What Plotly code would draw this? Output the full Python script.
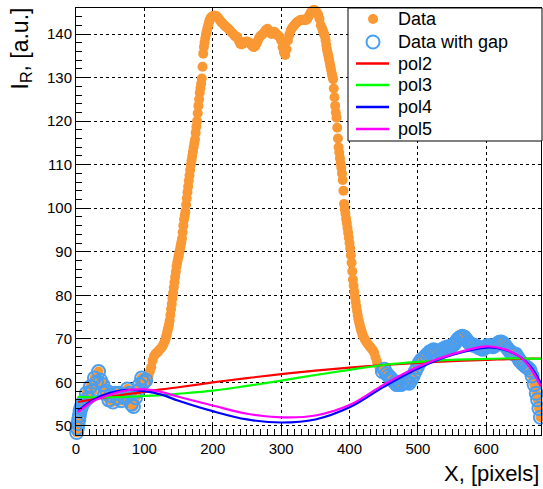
import plotly.graph_objects as go

# ---------------- data ----------------
data_x = (
    list(range(0, 11)) +
    list(range(12, 103, 3)) +
    list(range(104, 131, 2)) +
    list(range(131, 201)) +
    list(range(202, 360, 2)) +
    list(range(360, 421)) +
    list(range(422, 441, 2)) +
    [442, 445, 448, 451, 454, 457, 460, 463, 466, 469, 472, 475, 478, 481, 484, 487,
     490, 493, 496, 499, 502, 505, 508, 511, 514, 517, 520, 523, 526, 529, 532, 535,
     538, 541, 544, 547, 550, 553, 556, 559, 562, 565, 568, 571, 574, 577, 580, 583,
     586, 589, 592, 595, 598, 601, 604, 607, 610, 613, 616, 619, 622, 625, 628, 631,
     634, 637, 640, 643, 646, 649, 652, 655, 658, 661, 664, 667, 670, 673, 675, 677, 679]
)

data_y = (
    # 0..10
    [47.8, 48.5, 49.5, 50.5, 51.5, 52.5, 53.5, 54.0, 54.5, 55.0, 55.5] +
    # 12..102 step 3
    [55.5, 57.5, 56.5, 59.0, 58.0, 61.0, 60.0, 62.5, 60.5, 59.5, 57.5, 58.0, 56.0, 57.0,
     55.5, 57.5, 56.5, 57.5, 55.8, 57.0, 56.5, 58.5, 57.5, 55.0, 54.5, 56.5, 58.0, 59.5,
     61.0, 60.0, 60.5] +
    # 104..130 step 2
    [60.0, 61.5, 62.5, 63.5, 65.0, 66.0, 66.5, 66.8, 67.0, 67.5, 67.8, 68.2, 68.8, 69.5] +
    # 131..200 step 1
    [70.0, 70.6, 71.2, 72.0, 72.6, 73.3, 74.2, 75.5, 76.8, 78.0, 79.3, 80.5, 81.8, 83.0,
     84.2, 85.4, 86.6, 87.5, 88.2, 89.0, 89.8, 90.6, 91.4, 92.1, 93.0, 94.5, 96.0, 97.4,
     98.3, 99.2, 100.8, 102.3, 103.7, 105.0, 106.3, 107.5, 108.8, 110.0, 111.0, 112.0,
     113.0, 114.0, 115.0, 115.8, 117.3, 118.7, 120.0, 121.8, 123.5, 125.0, 126.5, 127.6,
     128.6, 129.8, 132.5, 135.5, 137.0, 138.0, 139.0, 139.8, 140.5, 141.2, 141.8, 142.4,
     143.0, 143.4, 143.7, 143.9, 144.0, 144.1] +
    # 202..358 step 2
    [144.2, 144.2, 144.0, 143.7, 143.3, 142.8, 142.5, 142.2, 141.8, 141.6, 141.3, 141.0,
     140.7, 140.3, 140.0, 139.6, 139.4, 139.3, 138.5, 137.8, 137.6, 137.8, 138.0, 138.2,
     138.3, 138.1, 138.0, 137.6, 137.2, 137.0, 137.2, 137.8, 138.5, 139.2, 139.6, 139.8,
     140.2, 140.6, 141.0, 141.2, 140.8, 140.4, 140.0, 140.3, 140.5, 140.2, 139.8, 139.6,
     139.3, 138.5, 137.0, 135.8, 135.2, 136.5, 138.5, 139.8, 140.8, 141.4, 141.8, 142.2,
     142.5, 142.8, 143.0, 143.2, 143.3, 143.3, 143.3, 143.2, 143.4, 144.0, 144.6, 145.1,
     145.4, 145.5, 145.4, 145.0, 144.5, 143.5, 142.0] +
    # 360..420 step 1
    [141.2, 140.8, 140.3, 139.9, 139.5, 138.6, 137.5, 136.5, 135.7, 135.0, 134.2, 133.4,
     132.6, 131.8, 131.0, 130.3, 129.6, 127.5, 125.5, 123.5, 122.0, 120.8, 118.5, 116.0,
     114.0, 112.8, 111.5, 110.3, 109.3, 108.0, 106.5, 104.0, 101.0, 99.8, 98.8, 97.6,
     96.6, 95.5, 94.4, 93.2, 92.0, 90.8, 89.2, 87.5, 85.5, 83.6, 82.2, 80.8, 79.6, 78.5,
     77.4, 76.4, 75.4, 74.5, 73.8, 73.2, 72.5, 72.0, 71.5, 71.0, 70.6] +
    # 422..440 step 2
    [70.0, 69.5, 69.0, 68.6, 68.2, 67.8, 67.4, 66.8, 65.8, 64.8] +
    # 442..679
    [64.0, 63.0, 62.5, 63.0, 62.0, 61.5, 61.0, 60.5, 60.0, 59.5, 60.0, 59.5, 59.8, 60.2,
     60.0, 59.8, 60.5, 61.5, 62.5, 63.5, 64.5, 65.2, 65.5, 66.0, 66.5, 67.0, 67.2, 67.5,
     67.3, 67.0, 67.2, 67.5, 67.8, 68.0, 68.2, 68.0, 68.4, 68.8, 69.4, 70.0, 70.4, 70.6,
     70.4, 69.8, 69.2, 68.8, 68.6, 68.5, 68.3, 68.0, 67.8, 67.6, 68.0, 68.4, 68.5, 68.3,
     68.2, 68.5, 68.9, 69.2, 69.3, 69.0, 68.4, 67.8, 67.2, 66.8, 66.6, 66.5, 65.8, 65.0,
     64.5, 64.0, 63.6, 63.3, 62.8, 61.5, 59.5, 57.5, 56.0, 54.0, 52.0]
)

# points kept in the "Data with gap" set
gap_lo = 103
gap_hi = 446

# fitted curves
fit_x = [3, 25, 50, 75, 100, 125, 150, 200, 250, 300, 350, 400, 450, 500, 550, 600, 625, 650, 665, 680]
pol2_y = [55.5, 56.1, 56.7, 57.3, 57.8, 58.4, 58.9, 60.0, 61.0, 61.9, 62.7, 63.4, 64.0, 64.5, 64.9, 65.2, 65.3, 65.4, 65.45, 65.5]
pol3_y = [56.7, 56.6, 56.6, 56.7, 56.9, 57.1, 57.4, 58.1, 59.2, 60.4, 61.7, 62.9, 64.0, 64.7, 65.2, 65.4, 65.5, 65.5, 65.45, 65.4]
pol4_y = [53.5, 56.0, 57.6, 58.3, 58.0, 57.2, 55.8, 53.4, 51.5, 50.8, 51.5, 54.3, 59.0, 63.2, 66.3, 68.0, 67.6, 65.8, 63.6, 59.8]
pol5_y = [53.2, 55.7, 57.2, 58.2, 58.4, 57.8, 56.7, 54.7, 52.8, 52.0, 52.4, 54.8, 59.5, 63.6, 66.5, 68.3, 67.7, 65.8, 63.2, 59.0]

x_ticks = [0, 100, 200, 300, 400, 500, 600]
y_ticks = [50, 60, 70, 80, 90, 100, 110, 120, 130, 140]

legend_labels = ["Data", "Data with gap", "pol2", "pol3", "pol4", "pol5"]

# ---------------- figure ----------------
W, H = 543, 489
ML, MR, MT, MB = 76, 2, 8, 54
PW, PH = W - ML - MR, H - MT - MB
FONT = "Liberation Sans, Arial, sans-serif"


def px2paper_x(px):
    return (px - ML) / PW


def px2paper_y(py):
    return (H - MB - py) / PH


orange = "rgb(250,152,52)"
blue = "rgb(74,158,240)"
line_colors = ["rgb(255,0,0)", "rgb(0,255,0)", "rgb(0,0,255)", "rgb(255,0,255)"]

gap_x = [x for x in data_x if x < gap_lo or x > gap_hi]
gap_y = [y for x, y in zip(data_x, data_y) if x < gap_lo or x > gap_hi]

fig = go.Figure()
fig.add_trace(go.Scatter(x=data_x, y=data_y, mode="markers", name=legend_labels[0],
                         marker=dict(symbol="circle", size=10, color=orange, line=dict(width=0)),
                         cliponaxis=False, showlegend=False))
fig.add_trace(go.Scatter(x=gap_x, y=gap_y, mode="markers", name=legend_labels[1],
                         marker=dict(symbol="circle-open", size=13, color=blue,
                                     line=dict(width=2, color=blue)),
                         cliponaxis=False, showlegend=False))
for name, ys, col in zip(legend_labels[2:], [pol2_y, pol3_y, pol4_y, pol5_y], line_colors):
    fig.add_trace(go.Scatter(x=fit_x, y=ys, mode="lines", name=name, showlegend=False,
                             line=dict(color=col, width=2.2, shape="spline")))

axis_common = dict(showline=True, mirror=True, linecolor="black", linewidth=1,
                   showgrid=True, gridcolor="black", griddash="dot", gridwidth=1,
                   zeroline=False, ticks="inside", ticklen=13, tickcolor="black",
                   tickfont=dict(family=FONT, size=15, color="black"))

fig.update_xaxes(range=[0, 680], tickvals=x_ticks, ticktext=[str(v) for v in x_ticks],
                 minor=dict(ticks="inside", ticklen=6, dtick=10, tick0=0, tickcolor="black",
                            showgrid=False),
                 **axis_common)
fig.update_yaxes(range=[47.93, 145.98], tickvals=y_ticks, ticktext=[str(v) for v in y_ticks],
                 minor=dict(ticks="inside", ticklen=6, dtick=2, tick0=0, tickcolor="black",
                            showgrid=False),
                 **axis_common)

# ---- legend (drawn by hand so that its box and spacing match) ----
shapes = [dict(type="rect", xref="paper", yref="paper",
               x0=px2paper_x(348), x1=px2paper_x(542), y0=px2paper_y(141), y1=px2paper_y(8),
               line=dict(color="black", width=1), fillcolor="white", layer="above")]
row_y = [19, 42, 63.5, 85, 107, 129]
sym_cx = 373
# filled orange dot
r = 5
shapes.append(dict(type="circle", xref="paper", yref="paper", layer="above",
                   x0=px2paper_x(sym_cx - r), x1=px2paper_x(sym_cx + r),
                   y0=px2paper_y(row_y[0] + r), y1=px2paper_y(row_y[0] - r),
                   fillcolor=orange, line=dict(width=0)))
# open blue circle
r = 6.5
shapes.append(dict(type="circle", xref="paper", yref="paper", layer="above",
                   x0=px2paper_x(sym_cx - r), x1=px2paper_x(sym_cx + r),
                   y0=px2paper_y(row_y[1] + r), y1=px2paper_y(row_y[1] - r),
                   fillcolor="rgba(0,0,0,0)", line=dict(width=2, color=blue)))
for yy, col in zip(row_y[2:], line_colors):
    shapes.append(dict(type="line", xref="paper", yref="paper", layer="above",
                       x0=px2paper_x(356), x1=px2paper_x(389),
                       y0=px2paper_y(yy), y1=px2paper_y(yy),
                       line=dict(color=col, width=2.5)))

annotations = [
    dict(text=lab, xref="paper", yref="paper", x=px2paper_x(396), y=px2paper_y(yy),
         xanchor="left", yanchor="middle", showarrow=False,
         font=dict(size=18, family=FONT, color="black"))
    for lab, yy in zip(legend_labels, row_y)
]
annotations += [
    dict(text="X, [pixels]", xref="paper", yref="paper",
         x=px2paper_x(541), y=px2paper_y(488), xanchor="right", yanchor="bottom",
         showarrow=False, font=dict(size=22, family=FONT, color="black")),
    dict(text="I<sub>R</sub>, [a.u.]", xref="paper", yref="paper", textangle=-90,
         x=px2paper_x(4), y=px2paper_y(6), xanchor="left", yanchor="top",
         showarrow=False, font=dict(size=23, family=FONT, color="black")),
]

fig.update_layout(
    width=W, height=H,
    margin=dict(l=ML, r=MR, t=MT, b=MB, pad=0),
    paper_bgcolor="white", plot_bgcolor="white",
    font=dict(family=FONT, color="black"),
    showlegend=False,
    shapes=shapes,
    annotations=annotations,
)

fig.write_html("out.html")
